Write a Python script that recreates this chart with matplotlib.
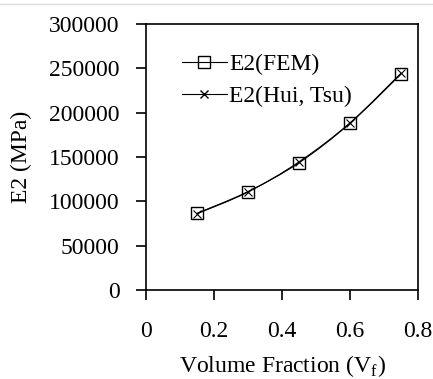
import numpy as np
import matplotlib.pyplot as plt
from matplotlib.path import Path
from matplotlib.patches import PathPatch
from matplotlib.lines import Line2D

plt.rcParams['font.family'] = ['Liberation Serif', 'DejaVu Serif']

# Данные
vf = [0.15, 0.3, 0.45, 0.6, 0.75]
e2_fem = [86500, 111000, 143500, 188000, 243500]
e2_hui = [86000, 110500, 144500, 188500, 244500]
x_ticks = [0, 0.2, 0.4, 0.6, 0.8]
y_ticks = [0, 50000, 100000, 150000, 200000, 250000, 300000]


def smooth_path(x, y):
    # сглаженная линия как в Excel (Catmull-Rom -> Bezier)
    x = np.asarray(x, float)
    y = np.asarray(y, float)
    pts = np.column_stack([x, y])
    verts = [pts[0]]
    codes = [Path.MOVETO]
    n = len(pts)
    for i in range(n - 1):
        p0 = pts[i - 1] if i > 0 else pts[i]
        p1 = pts[i]
        p2 = pts[i + 1]
        p3 = pts[i + 2] if i + 2 < n else pts[i + 1]
        c1 = p1 + (p2 - p0) / 6.0
        c2 = p2 - (p3 - p1) / 6.0
        verts.extend([c1, c2, p2])
        codes.extend([Path.CURVE4] * 3)
    return Path(verts, codes)


fig = plt.figure(figsize=(4.33, 3.79), dpi=100)
ax = fig.add_axes([146 / 433, 1 - 290 / 379, 272 / 433, 266 / 379])

ax.add_patch(PathPatch(smooth_path(vf, e2_fem), fill=False, lw=0.8, ec='black'))
ax.add_patch(PathPatch(smooth_path(vf, e2_hui), fill=False, lw=0.8, ec='black'))
ax.plot(vf, e2_fem, linestyle='none', marker='s', ms=9, mfc='none', mec='black', mew=1.0)
ax.plot(vf, e2_hui, linestyle='none', marker='x', ms=6, mec='black', mew=0.8)

ax.set_xlim(0, 0.8)
ax.set_ylim(0, 300000)
ax.set_xticks(x_ticks)
ax.set_xticklabels(['0', '0.2', '0.4', '0.6', '0.8'])
ax.set_yticks(y_ticks)
ax.set_yticklabels([str(v) for v in y_ticks])
ax.tick_params(axis='both', direction='out', length=7, width=1.2, labelsize=17)
ax.tick_params(axis='x', pad=15)
ax.tick_params(axis='y', pad=12)
for s in ax.spines.values():
    s.set_linewidth(1.2)

ax.set_xlabel('Volume Fraction (V$_\\mathregular{f}$)', fontsize=17, labelpad=8)
ax.set_ylabel('E2 (MPa)', fontsize=17, labelpad=12)

h1 = Line2D([], [], color='black', lw=0.8, marker='s', ms=9, mfc='none', mec='black')
h2 = Line2D([], [], color='black', lw=0.8, marker='x', ms=6, mec='black')
ax.legend([h1, h2], ['E2(FEM)', 'E2(Hui, Tsu)'], loc='upper left', frameon=False,
          fontsize=17, handlelength=1.9, handletextpad=0.1, labelspacing=0.45,
          borderpad=0, borderaxespad=0, bbox_to_anchor=(0.132, 0.888))

fig.add_artist(Line2D([0, 1], [1 - 4 / 379, 1 - 4 / 379], color='#dddddd', lw=1))

fig.savefig('out.png', dpi=100)
